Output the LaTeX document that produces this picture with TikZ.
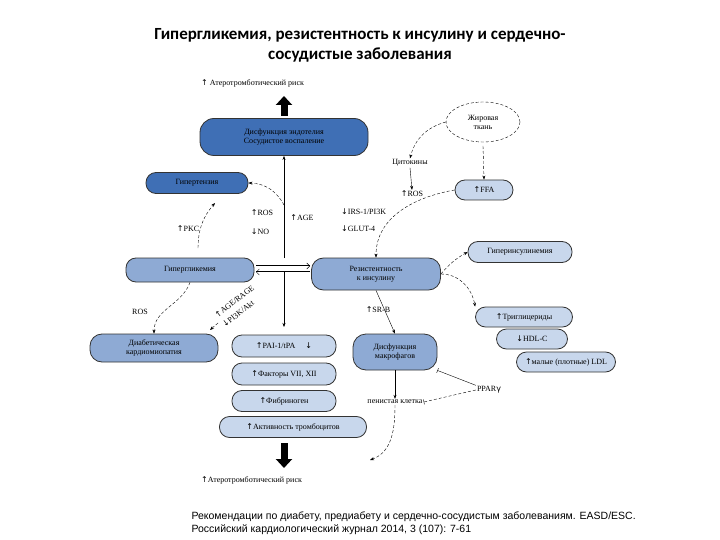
\documentclass[tikz,border=0pt]{standalone}
\usepackage{fontspec}
\setmainfont{Liberation Serif}
\newfontfamily\tf{Carlito}
\newfontfamily\cf{Liberation Sans}
\newfontfamily\dv{DejaVu Sans}
\usetikzlibrary{arrows.meta,shapes.geometric}
\newcommand{\U}{{\dv\char"2191}}
\newcommand{\D}{{\dv\char"2193}}
\definecolor{dk}{HTML}{3F6FB5}
\definecolor{md}{HTML}{8EAAD4}
\definecolor{lt}{HTML}{C8D7EC}
\begin{document}
\begin{tikzpicture}[x=1pt,y=-1pt,
 bx/.style={draw=black!80,line width=0.8pt,rounded corners=10pt,minimum height=21pt,font=\fontsize{8}{9}\selectfont,align=center,inner sep=2pt},
 dkb/.style={bx,fill=dk}, mdb/.style={bx,fill=md}, ltb/.style={bx,fill=lt},
 lb/.style={font=\fontsize{8}{9}\selectfont,inner sep=1pt},
 da/.style={densely dashed,-{Stealth[length=4pt]},thin},
 sa/.style={-{Stealth[length=4pt]},thin},
 big/.style={-{Triangle[length=9pt,width=16pt]},line width=7pt}]
\useasboundingbox (0,0) rectangle (720,540);
\node[font=\tf\bfseries\fontsize{17}{20}\selectfont,align=center] (t) at (360,45) {Гипергликемия, резистентность к инсулину и сердечно-\\сосудистые заболевания};
\node[lb,anchor=west] (r1) at (200,83) {\U\ Атеротромботический риск};
\node[dkb,minimum width=168pt,minimum height=37pt,rounded corners=14pt] (dys) at (284,137) {Дисфункция эндотелия\\Сосудистое воспаление};
\coordinate (a1) at (284,116); \coordinate (a2) at (284,96);
\draw[big] (a1) -- (a2);
\node[dkb,minimum width=102pt] (htn) at (197,183) {Гипертензия};
\node[ellipse,draw,densely dashed,minimum width=74pt,minimum height=40pt,align=center,lb] (fat) at (483,122) {Жировая\\ткань};
\node[lb] (cyt) at (410,163) {Цитокины};
\node[lb] (ros2) at (412,194) {\U ROS};
\node[ltb,minimum width=58pt,minimum height=20pt] (ffa) at (484,190) {\U FFA};
\node[lb,anchor=west] (irs) at (340,212) {\D IRS-1/PI3K};
\node[lb,anchor=west] (glut) at (340,229) {\D GLUT-4};
\node[lb] (ros1) at (262,213) {\U ROS};
\node[lb] (no) at (260,232) {\D NO};
\node[lb] (age) at (302,218) {\U AGE};
\node[lb] (pkc) at (188,229) {\U PKC};
\node[ltb,minimum width=104pt] (hins) at (520,252) {Гиперинсулинемия};
\node[mdb,minimum width=128pt,minimum height=24pt] (hgl) at (190,270) {Гипергликемия};
\node[mdb,minimum width=129pt,minimum height=32pt,rounded corners=12pt] (ir) at (376,274) {Резистентность\\к инсулину};
\coordinate (v0) at (284,258);
\draw[sa] (v0) -- (dys.south);
\coordinate (h1) at (256,266); \coordinate (h2) at (310,266);
\draw[double,-{Straight Barb[length=3pt]}] (h1) -- (h2);
\coordinate (h3) at (310,272); \coordinate (h4) at (256,272);
\draw[double,-{Straight Barb[length=3pt]}] (h3) -- (h4);
\coordinate (v1) at (284,272); \coordinate (v2) at (284,327);
\draw[sa] (v1) -- (v2);
\coordinate (vh) at (284,205); \draw[da] (vh) to[bend right=30] (htn.east);
\coordinate (pk2) at (198,248); \coordinate (pk3) at (215,203);
\draw[da] (pk2) to[bend left=20] (pk3);
\draw[da] (fat.west) to[bend right=30] (cyt.north);
\draw[sa] (cyt.south) -- (ros2.north);
\coordinate (f1) at (483,146); \draw[da] (f1) -- (ffa.north);
\draw[da] (ffa.west) to[out=190,in=90] (ir.north);
\draw[da] (ir.east) to[bend left=10] (hins.west);
\node[ltb,minimum width=97pt,minimum height=20pt] (tg) at (524,317) {\U Триглицериды};
\node[ltb,minimum width=71pt,minimum height=20pt] (hdl) at (532,339) {\D HDL-C};
\node[ltb,minimum width=99pt,minimum height=20pt] (ldl) at (566,362) {\U малые (плотные) LDL};
\draw[da] (ir.east) to[out=0,in=100] (tg.north west);
\node[lb] (rosl) at (140,312) {ROS};
\node[mdb,minimum width=128pt,minimum height=28pt,rounded corners=12pt] (dcm) at (154,348) {Диабетическая\\кардиомиопатия};
\draw[da] (hgl.south) to[out=250,in=90] (dcm.north);
\node[font=\fontsize{8}{12}\selectfont,inner sep=1pt,rotate=38,align=left] (ag) at (238,306) {\U AGE/RAGE\\\D PI3K/Akt};
\coordinate (ag1) at (210,330); \coordinate (ag0) at (218,323);
\draw[da] (ag0) -- (ag1);
\node[ltb,minimum width=104pt,minimum height=22pt] (pai) at (284,346) {\U PAI-1/tPA \quad\D};
\node[ltb,minimum width=104pt,minimum height=22pt] (fac) at (284,374) {\U Факторы VII, XII};
\node[ltb,minimum width=104pt,minimum height=21pt] (fib) at (284,401) {\U Фибриноген};
\node[ltb,minimum width=147pt,minimum height=21pt] (plt) at (293,427) {\U Активность тромбоцитов};
\coordinate (b1) at (284,443); \coordinate (b2) at (284,468);
\draw[big] (b1) -- (b2);
\node[lb,anchor=west] (r2) at (200,480) {\U Атеротромботический риск};
\node[lb] (srb) at (378,310) {\U SR-B};
\node[mdb,minimum width=84pt,minimum height=36pt,rounded corners=13pt] (mac) at (395,352) {Дисфункция\\макрофагов};
\draw[sa] (ir.south) -- (mac.north);
\node[lb] (foam) at (395,402) {пенистая клетка};
\draw[sa] (mac.south) -- (foam.north);
\node[lb] (ppar) at (489,390) {PPAR{\dv γ}};
\draw[-{Bar[width=5pt]},thin] (ppar.north west) -- (mac.south east);
\draw[densely dashed,-{Bar[width=5pt]},thin] (ppar.west) -- (foam.east);
\coordinate (fe) at (370,460);
\draw[da] (foam.south) to[out=270,in=20] (fe);
\node[font=\cf\fontsize{10.5}{13}\selectfont,align=left,anchor=north west] (cit) at (188,508) {Рекомендации по диабету, предиабету и сердечно-сосудистым заболеваниям. EASD/ESC.\\Российский кардиологический журнал 2014, 3 (107): 7-61};
\end{tikzpicture}
\end{document}
